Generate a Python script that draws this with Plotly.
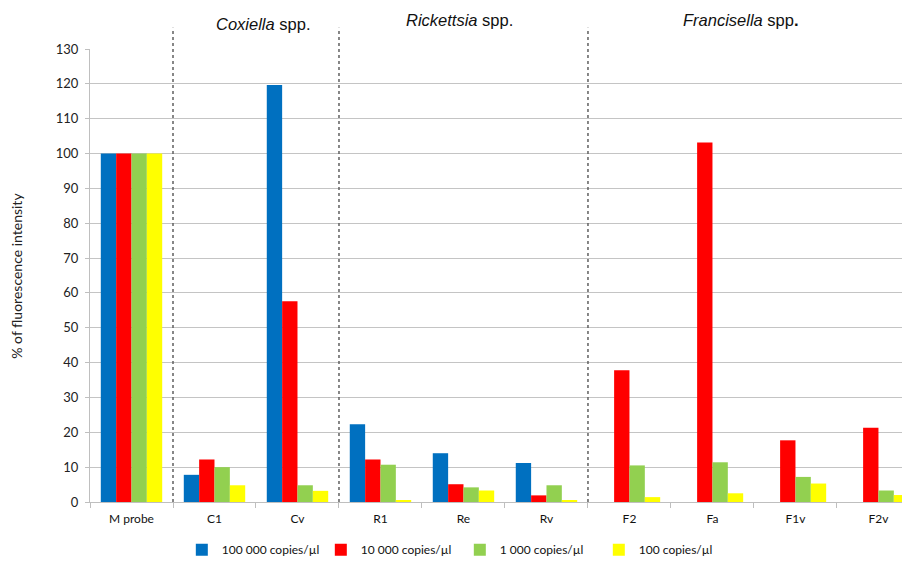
import plotly.graph_objects as go

categories = ["M probe", "C1", "Cv", "R1", "Re", "Rv", "F2", "Fa", "F1v", "F2v"]
series_names = ["100 000 copies/µl", "10 000 copies/µl", "1 000 copies/µl", "100 copies/µl"]
s100000 = [100, 7.8, 119.7, 22.3, 14.0, 11.2, None, None, None, None]
s10000 = [100, 12.2, 57.6, 12.2, 5.1, 1.9, 37.8, 103.2, 17.7, 21.3]
s1000 = [100, 10.0, 4.8, 10.7, 4.2, 4.8, 10.5, 11.4, 7.2, 3.3]
s100 = [100, 4.8, 3.2, 0.5, 3.3, 0.3, 1.4, 2.5, 5.3, 2.0]
colors = ["#0070C0", "#FF0000", "#92D050", "#FFFF00"]
group_labels = ["<i>Coxiella</i> spp.", "<i>Rickettsia</i> spp.", "<i>Francisella</i> spp<b>.</b>"]
group_label_x = [1.58, 3.95, 7.34]
group_label_y = [1.056, 1.063, 1.063]
separators = [0.5, 2.5, 5.5]
yticks = list(range(0, 131, 10))

fig = go.Figure()
for name, vals, col in zip(series_names, [s100000, s10000, s1000, s100], colors):
    fig.add_trace(go.Bar(x=categories, y=vals, name=name, marker=dict(color=col, line=dict(width=0))))

for xs in separators:
    fig.add_shape(type="line", xref="x", yref="paper", x0=xs, x1=xs, y0=0, y1=1.047,
                  line=dict(color="#606060", width=1.5, dash="dot"))

for t, gx, gy in zip(group_labels, group_label_x, group_label_y):
    fig.add_annotation(text=t, x=gx, y=gy, xref="x", yref="paper", showarrow=False,
                       xanchor="center", yanchor="middle",
                       font=dict(family="Liberation Sans, Arial", size=16.5, color="#111111"))

fig.add_annotation(text="% of fluorescence intensity", x=-0.09, y=0.5, xref="paper", yref="paper",
                   textangle=-90, showarrow=False, xanchor="center", yanchor="middle",
                   font=dict(family="Lato", size=14, color="#222222"))

# page body has an 8px margin, so the figure is sized to fill the rest of the window
fig.update_layout(
    width=902, height=554,
    margin=dict(l=82, r=0, t=41, b=60, autoexpand=False),
    paper_bgcolor="white", plot_bgcolor="white",
    barmode="group", bargap=0.26, bargroupgap=0,
    font=dict(family="Lato", size=12, color="#222222"),
    legend=dict(orientation="h", x=0.451, xanchor="center", yref="container", y=0.022, yanchor="middle",
                font=dict(family="Lato", size=12, color="#111111"), itemwidth=30,
                entrywidth=94, entrywidthmode="pixels",
                traceorder="normal"),
    xaxis=dict(type="category", range=[-0.5, 9.38], showline=True, linecolor="#BFBFBF", linewidth=1,
               ticks="outside", tickson="boundaries", ticklen=5, tickcolor="#BFBFBF",
               ticklabelstandoff=6,
               showgrid=False, tickfont=dict(family="Lato", size=12, color="#111111")),
    yaxis=dict(range=[0, 130], tickvals=yticks, showline=True, linecolor="#BFBFBF", linewidth=1,
               ticks="outside", ticklen=4, tickcolor="#BFBFBF", gridcolor="#C4C4C4", gridwidth=1,
               ticklabelstandoff=4,
               zeroline=False, tickfont=dict(family="Lato", size=13, color="#222222")),
)

fig.write_html("out.html")
